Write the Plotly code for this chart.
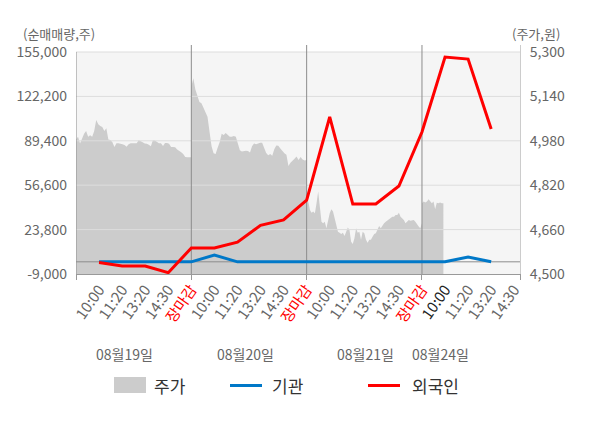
import plotly.graph_objects as go

# --- data ---
days = ["08월19일", "08월20일", "08월21일", "08월24일"]
slot_labels = ["10:00", "11:20", "13:20", "14:30", "장마감"]

# 주가 (intraday price, won) per day
price_d1 = [4985, 4995, 4970, 4990, 5005, 5015, 4995, 5000, 4995, 5015, 5055, 5040, 5033, 5030,
            5015, 5025, 4985, 4983, 4975, 4958, 4971, 4971, 4970, 4968, 4965, 4959, 4968, 4971,
            4971, 4971, 4971, 4983, 4978, 4972, 4970, 4969, 4966, 4960, 4982, 4981, 4975, 4971,
            4971, 4961, 4972, 4972, 4969, 4958, 4958, 4957, 4949, 4945, 4939, 4932, 4922, 4921,
            4921, 4921]
price_d2 = [5175, 5205, 5165, 5139, 5120, 5115, 5100, 5087, 5067, 5013, 4960, 4935, 4932, 4955,
            4975, 5005, 5001, 5008, 5001, 4995, 4995, 4997, 4995, 4971, 4946, 4941, 4943, 4944,
            4943, 4938, 4960, 4970, 4968, 4972, 4973, 4973, 4955, 4936, 4928, 4932, 4926, 4950,
            4963, 4962, 4952, 4943, 4935, 4930, 4889, 4901, 4907, 4915, 4923, 4911, 4922, 4913,
            4909, 4911]
price_d3 = [4767, 4761, 4731, 4721, 4725, 4719, 4755, 4797, 4743, 4688, 4683, 4688, 4665, 4695,
            4719, 4733, 4725, 4701, 4677, 4652, 4649, 4644, 4649, 4637, 4652, 4668, 4659, 4616,
            4608, 4629, 4665, 4649, 4652, 4623, 4652, 4647, 4623, 4613, 4623, 4623, 4634, 4644,
            4647, 4661, 4673, 4665, 4677, 4683, 4688, 4692, 4697, 4701, 4706, 4706, 4713, 4713,
            4721, 4706, 4701, 4695, 4683, 4688, 4695, 4692, 4695, 4695, 4688, 4677, 4671, 4665,
            4683]
price_d4 = [4755, 4761, 4758, 4761, 4769, 4761, 4755, 4761, 4733, 4757, 4755, 4758, 4755, 4755]

# cumulative net buying (shares) at each slot
foreign = [-500, -3100, -3100, -8000, 10200,
           10200, 14500, 27000, 30900, 45500,
           107000, 42700, 42700, 56000, 95900,
           151300, 149800, 98100]
institution = [0, 0, 0, 0, 0,
               5000, 0, 0, 0, 0,
               0, 0, 0, 0, 0,
               0, 3500, 0]

left_ticks = [-9000, 23800, 56600, 89400, 122200, 155000]
right_ticks = [4500, 4660, 4820, 4980, 5140, 5300]

# --- x positions: each day is 5 slot units wide ---
SLOTS = 5
X_END = 19.25
price_days = [price_d1, price_d2, price_d3]
px_x, px_y = [], []
for d, vals in enumerate(price_days):
    n = len(vals)
    px_x += [d * SLOTS + i * SLOTS / (n - 1) for i in range(n)]
    px_y += vals
step = SLOTS / (len(price_d3) - 1)
px_x += [3 * SLOTS + i * step for i in range(len(price_d4))]
px_y += price_d4

line_x = [d * SLOTS + k + 1 for d in range(len(days)) for k in range(SLOTS)][:len(foreign)]

tickvals, ticktext = [], []
for d in range(len(days)):
    for k, lab in enumerate(slot_labels):
        v = d * SLOTS + k + 1
        if v > X_END:
            continue
        tickvals.append(v)
        if lab == "장마감":
            ticktext.append('<span style="color:#ff0000">%s</span>' % lab)
        elif d == len(days) - 1 and k == 0:
            ticktext.append('<span style="color:#222222">%s</span>' % lab)
        else:
            ticktext.append(lab)

# ranges extended a bit above the top tick so the day lines poke out
y_top = 155000 + 7 * (164000 / 222)
price_top = 5300 + 7 * (800 / 222)

fig = go.Figure()

# price area lives on the main y axis (drawn first, underneath)
fig.add_trace(go.Scatter(x=px_x, y=px_y, yaxis="y", mode="lines", fill="tozeroy",
                         fillcolor="#cccccc", line=dict(width=0, color="#cccccc"),
                         name="주가", hoverinfo="skip", showlegend=False))

# grid lines over the price area
gx, gy = [], []
for t in left_ticks[1:]:
    gx += [0, X_END, None]
    gy += [t, t, None]
fig.add_trace(go.Scatter(x=gx, y=gy, yaxis="y2", mode="lines",
                         line=dict(color="#dddddd", width=1),
                         showlegend=False, hoverinfo="skip"))

# day separators and left axis line
vx, vy = [0, 0, None], [-9000, 155000, None]
for d in range(1, len(days)):
    vx += [d * SLOTS, d * SLOTS, None]
    vy += [-9000, y_top, None]
fig.add_trace(go.Scatter(x=vx, y=vy, yaxis="y2", mode="lines",
                         line=dict(color="#8c8c8c", width=1),
                         showlegend=False, hoverinfo="skip"))

fig.add_trace(go.Scatter(x=[0, X_END], y=[0, 0], yaxis="y2", mode="lines",
                         line=dict(color="#8c8c8c", width=1), showlegend=False,
                         hoverinfo="skip"))

fig.add_trace(go.Scatter(x=line_x, y=institution, yaxis="y2", mode="lines", name="기관",
                         line=dict(color="#0078c8", width=3), showlegend=False))
fig.add_trace(go.Scatter(x=line_x, y=foreign, yaxis="y2", mode="lines", name="외국인",
                         line=dict(color="#ff0000", width=3), showlegend=False))

fig.add_shape(type="rect", xref="x", yref="y2", x0=0, x1=X_END, y0=-9000, y1=155000,
              fillcolor="#f5f5f5", line=dict(width=0), layer="below")

# the page body adds an 8px offset, so margins are shifted to compensate
font_main = "Noto Sans CJK KR"
fig.update_layout(
    width=600, height=428,
    margin=dict(l=68, r=88, t=37, b=162, autoexpand=False),
    paper_bgcolor="white", plot_bgcolor="white",
    font=dict(family=font_main, size=13, color="#666666"),
    showlegend=False,
    xaxis=dict(range=[0, X_END], tickmode="array", tickvals=tickvals, ticktext=ticktext,
               tickangle=-55, ticks="", showgrid=False, zeroline=False, automargin=False,
               showline=True, linecolor="#999999", layer="above traces",
               tickfont=dict(size=15, color="#666666"),
               minor=dict(tickmode="array", tickvals=[0, 5, 10, 15, X_END], ticks="outside",
                          ticklen=5, tickcolor="#999999", showgrid=False)),
    yaxis=dict(range=[4500, price_top], side="right", tickmode="array",
               tickvals=right_ticks, ticktext=[f"{v:,}" for v in right_ticks],
               showgrid=False, zeroline=False, showline=True, linecolor="#cccccc",
               automargin=False, ticks="", ticklabelstandoff=6,
               tickfont=dict(size=14, color="#666666")),
    yaxis2=dict(range=[-9000, y_top], overlaying="y", side="left", tickmode="array",
                tickvals=left_ticks, ticktext=[f"{v:,}" for v in left_ticks],
                showgrid=False, zeroline=False, automargin=False,
                ticks="", ticklabelstandoff=8, tickfont=dict(size=14, color="#666666")),
)

fig.add_annotation(text="(순매매량,주)", xref="paper", yref="paper", x=-0.123, y=1.05,
                   xanchor="left", yanchor="middle", showarrow=False,
                   font=dict(size=13, color="#666666"))
fig.add_annotation(text="(주가,원)", xref="paper", yref="paper", x=1.095, y=1.05,
                   xanchor="right", yanchor="middle", showarrow=False,
                   font=dict(size=13, color="#666666"))

day_label_x = [2.12, 7.33, 12.53, 15.82]
for name, xv in zip(days, day_label_x):
    fig.add_annotation(text=name, x=xv, xref="x", y=-0.349, yref="paper",
                       showarrow=False, xanchor="center", yanchor="middle",
                       font=dict(size=14, color="#666666"))


# hand-placed legend (screen pixel positions converted to paper coords)
def px_to_paper(px, py):
    return (px - 76) / 444, (274 - py) / 229


x0, y0 = px_to_paper(114, 377)
x1, y1 = px_to_paper(146, 393)
fig.add_shape(type="rect", xref="paper", yref="paper", x0=x0, x1=x1, y0=y0, y1=y1,
              fillcolor="#cccccc", line=dict(width=0))
legend_lines = [("#0078c8", 230, 262), ("#ff0000", 368, 400)]
for color, a, b in legend_lines:
    lx0, ly = px_to_paper(a, 385.5)
    lx1, _ = px_to_paper(b, 385.5)
    fig.add_shape(type="line", xref="paper", yref="paper", x0=lx0, x1=lx1, y0=ly, y1=ly,
                  line=dict(color=color, width=3))
legend_texts = [("주가", 152), ("기관", 270), ("외국인", 410)]
for txt, tx in legend_texts:
    ax, ay = px_to_paper(tx, 385)
    fig.add_annotation(text=txt, xref="paper", yref="paper", x=ax, y=ay, xanchor="left",
                       yanchor="middle", showarrow=False,
                       font=dict(size=17, color="#333333"))

fig.write_html("out.html")
